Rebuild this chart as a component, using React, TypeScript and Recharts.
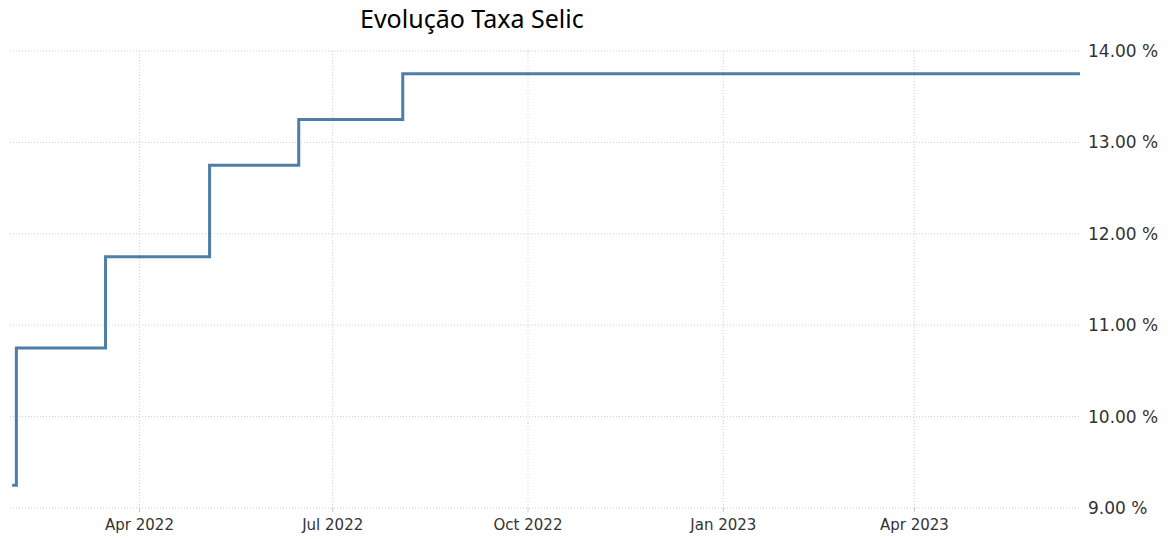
import React from 'react';
import { LineChart, Line, XAxis, YAxis, CartesianGrid } from 'recharts';

// Selic decisions (Copom meetings)
const meetingDates = [
  '2022-01-31', '2022-02-02', '2022-03-16', '2022-05-04', '2022-06-15', '2022-08-03',
  '2022-09-21', '2022-10-26', '2022-12-07', '2023-02-01', '2023-03-22', '2023-05-03', '2023-06-18',
];
const selicRate = [9.25, 10.75, 11.75, 12.75, 13.25, 13.75, 13.75, 13.75, 13.75, 13.75, 13.75, 13.75, 13.75];

const xTickDates = ['2022-04-01', '2022-07-01', '2022-10-01', '2023-01-01', '2023-04-01'];
const yTicks = [9, 10, 11, 12, 13, 14];
const months = ['Jan', 'Feb', 'Mar', 'Apr', 'May', 'Jun', 'Jul', 'Aug', 'Sep', 'Oct', 'Nov', 'Dec'];

const toTime = (s: string) => Date.parse(s + 'T00:00:00Z');

const data = meetingDates.map((d, i) => ({ t: toTime(d), value: selicRate[i] }));
const xTicks = xTickDates.map(toTime);
const xDomain = [toTime('2022-01-30'), toTime('2023-06-18')];

const fmtDate = (t: number) => {
  const d = new Date(t);
  return `${months[d.getUTCMonth()]} ${d.getUTCFullYear()}`;
};

// only draw vertical grid lines at the month ticks (no edge lines)
const verticalAtTicks = (props: any) => {
  const scale = props.xAxis?.scale;
  if (typeof scale === 'function') return xTicks.map((t) => scale(t));
  if (scale && typeof scale.map === 'function') return xTicks.map((t) => scale.map(t));
  const off = props.offset || { left: 10, width: props.width - 103 };
  return xTicks.map((t) => off.left + ((t - xDomain[0]) / (xDomain[1] - xDomain[0])) * off.width);
};

export default function App() {
  return (
    <div style={{ position: 'absolute', left: 0, top: 0, width: 1173, height: 539, background: '#fff' }}>
      <div
        style={{
          position: 'absolute',
          left: 360,
          top: 1,
          fontFamily: 'Noto Sans',
          fontSize: 25,
          color: '#000',
          whiteSpace: 'nowrap',
        }}
      >
        Evolução Taxa Selic
      </div>
      <LineChart
        width={1173}
        height={539}
        data={data}
        margin={{ top: 51, right: 0, left: 10, bottom: 0 }}
      >
        <CartesianGrid
          stroke="#cfcfcf"
          strokeDasharray="1 2"
          verticalCoordinatesGenerator={verticalAtTicks}
        />
        <XAxis
          dataKey="t"
          type="number"
          scale="time"
          domain={xDomain}
          ticks={xTicks}
          tickFormatter={fmtDate}
          axisLine={false}
          tickLine={{ stroke: '#c9c9c9' }}
          tickSize={4}
          tickMargin={7}
          tick={{ fontFamily: 'DejaVu Sans', fontSize: 15, fill: '#333' }}
          height={31}
        />
        <YAxis
          orientation="right"
          domain={[9, 14]}
          ticks={yTicks}
          tickFormatter={(v: number) => `${v.toFixed(2)} %`}
          axisLine={false}
          tickLine={false}
          tick={{ fontFamily: 'DejaVu Sans', fontSize: 17, fill: '#333' }}
          width={93}
        />
        <Line
          type="stepAfter"
          dataKey="value"
          stroke="#4d7ea8"
          strokeWidth={3}
          dot={false}
          isAnimationActive={false}
        />
      </LineChart>
    </div>
  );
}
